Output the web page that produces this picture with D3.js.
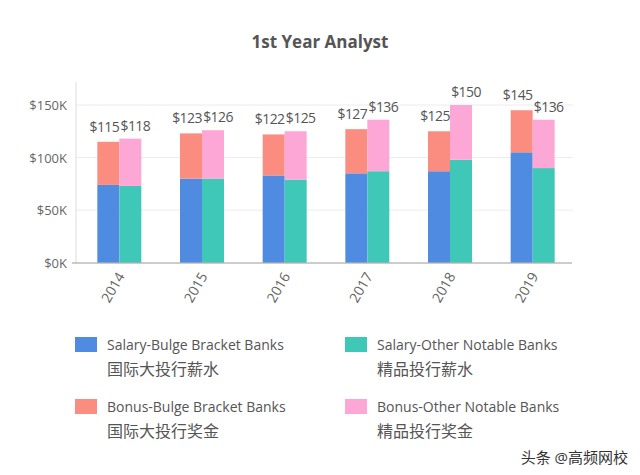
<!DOCTYPE html><html><head><meta charset="utf-8"><script src="https://cdn.jsdelivr.net/npm/d3@7"></script>
<style>body{margin:0;background:#fff}text{font-family:"Open Sans","Noto Sans CJK SC",sans-serif}</style></head><body><svg id="c" width="640" height="475"></svg><script>
const years=["2014","2015","2016","2017","2018","2019"];
const salaryBulge=[74,80,83,85,87,105];
const totalBulge=[115,123,122,127,125,145];
const salaryOther=[73,80,79,87,98,90];
const totalOther=[118,126,125,136,150,136];
const yTicks=[0,50,100,150];
const colors={sb:"#4f8be0",bb:"#fa8c80",so:"#3fc8b8",bo:"#fca7d6"};
const svg=d3.select("#c");
const x=d3.scaleBand().domain(years).range([78,574]);
const y=d3.scaleLinear().domain([0,150]).range([262.7,105]);
svg.append("text").attr("x",320).attr("y",48).attr("text-anchor","middle").attr("font-size",17).attr("font-weight","bold").attr("fill","#555").text("1st Year Analyst");
yTicks.forEach(t=>{
 if(t>0)svg.append("line").attr("x1",76).attr("x2",573).attr("y1",y(t)).attr("y2",y(t)).attr("stroke","#ececec");
 svg.append("text").attr("x",67).attr("y",y(t)+5).attr("text-anchor","end").attr("font-size",13).attr("fill","#666").text("$"+t+"K");
});
svg.append("line").attr("x1",76).attr("x2",76).attr("y1",82).attr("y2",263).attr("stroke","#ddd");
const bw=22;
years.forEach((yr,i)=>{
 const c=x(yr)+x.bandwidth()/2;
 const b=[[c-bw,salaryBulge[i],totalBulge[i],colors.sb,colors.bb],[c,salaryOther[i],totalOther[i],colors.so,colors.bo]];
 b.forEach(([x0,s,t,c1,c2],j)=>{
  svg.append("rect").attr("x",x0).attr("width",bw).attr("y",y(s)).attr("height",y(0)-y(s)).attr("fill",c1);
  svg.append("rect").attr("x",x0).attr("width",bw).attr("y",y(t)).attr("height",y(s)-y(t)).attr("fill",c2);
  svg.append("text").attr("x",x0+bw/2+(j?5:-4)).attr("y",y(t)-(j?8:10)).attr("text-anchor","middle").attr("font-size",14).attr("letter-spacing","-0.6").attr("fill","#555").text("$"+t);
 });
 svg.append("text").attr("transform",`translate(${c+6},${276}) rotate(-60)`).attr("text-anchor","end").attr("font-size",14).attr("fill","#666").text(yr);
});
svg.append("line").attr("x1",72).attr("x2",572).attr("y1",263).attr("y2",263).attr("stroke","#999");
const leg=[[75,344,colors.sb,"Salary-Bulge Bracket Banks","国际大投行薪水"],[345,344,colors.so,"Salary-Other Notable Banks","精品投行薪水"],[75,406,colors.bb,"Bonus-Bulge Bracket Banks","国际大投行奖金"],[345,406,colors.bo,"Bonus-Other Notable Banks","精品投行奖金"]];
leg.forEach(([lx,ly,c,t1,t2])=>{
 svg.append("rect").attr("x",lx).attr("y",ly-7).attr("width",22).attr("height",15).attr("fill",c);
 svg.append("text").attr("x",lx+32).attr("y",ly+6).attr("font-size",14).attr("fill","#555").text(t1);
 svg.append("text").attr("x",lx+32).attr("y",ly+31).attr("font-size",16).attr("fill","#555").text(t2);
});
svg.append("text").attr("x",628).attr("y",463).attr("text-anchor","end").attr("font-size",15).attr("fill","#333").text("头条 @高频网校");
</script></body></html>
